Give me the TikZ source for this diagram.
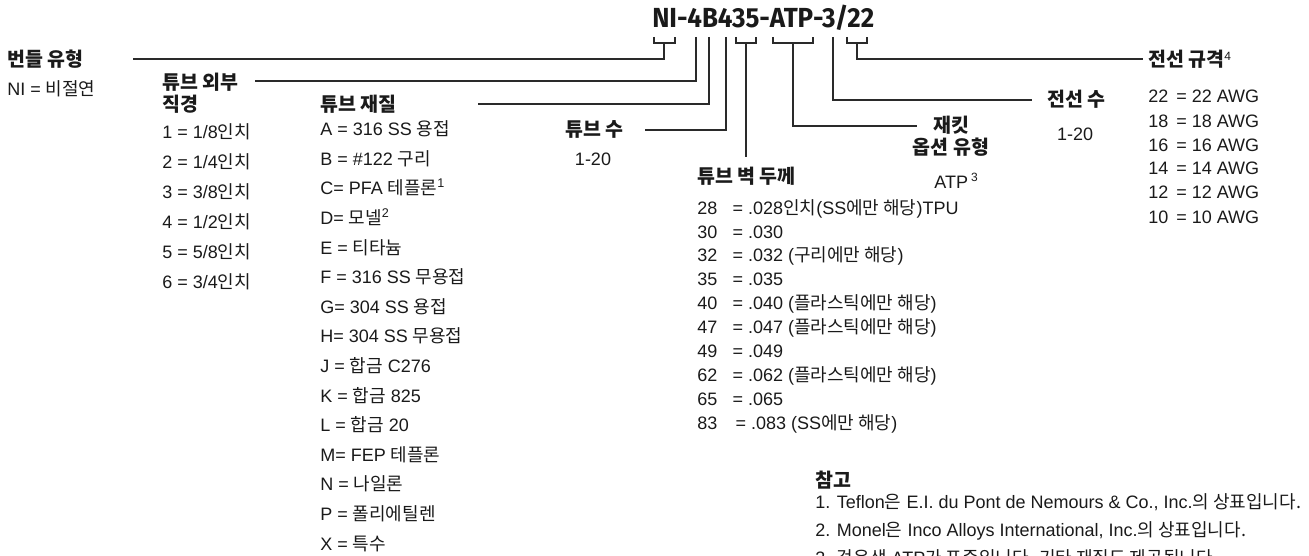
\documentclass[tikz,border=0pt]{standalone}
\usepackage{fontspec}
\setmainfont{Liberation Sans}
\newfontfamily\krfont{Noto Sans CJK KR}
\newfontfamily\krhead{Noto Sans CJK KR}
\newfontfamily\codefont{Fira Sans}
\usetikzlibrary{positioning,calc}
\definecolor{Ink}{HTML}{1A1A1A}
\definecolor{Wire}{HTML}{2A2A2A}
\newcommand\ko[1]{{\krfont #1}}
\newcommand\wallrow[2]{\makebox[26.5pt][l]{#1}= #2}
\newcommand\gaugerow[2]{\makebox[21pt][l]{#1}= #2}

\begin{document}
\begin{tikzpicture}[x=0.75pt,y=-0.75pt,
  code/.style={font=\codefont\bfseries\fontsize{20.7}{24}\selectfont,inner sep=0pt,anchor=base west,text=Ink},
  head/.style={font=\krhead\bfseries\fontsize{14.6}{16.5}\selectfont,inner sep=0pt,anchor=base west,align=left,text=Ink},
  item/.style={font=\fontsize{13.5}{22.3}\selectfont,inner sep=0pt,anchor=base west,align=left,text=Ink},
  lead/.style={draw=Wire,line width=1pt}
]
  \useasboundingbox (0,0) rectangle (1309,556);

  % part number
  \node[code] (code) at (652,28) {\scalebox{0.94}[1]{NI-4B435-ATP-3/22}};

  % headings (multi-line nodes sit on their last baseline)
  \node[head] (bundle) at (7,67) {번들 유형};
  \node[head] (outer) at (162,112) {튜브 외부\\직경};
  \node[head] (matl) at (320,112) {튜브 재질};
  \node[head] (count) at (565,137) {튜브 수};
  \node[head] (wall) at (697,184) {튜브 벽 두께};
  \node[head,align=center,anchor=base] (jacket) at (951,155) {재킷\\옵션 유형};
  \node[head] (wires) at (1047,107) {전선 수};
  \node[head] (gauge) at (1148,67) {전선 규격{\rmfamily\mdseries\fontsize{9}{9}\selectfont\raisebox{5pt}{4}}};
  \node[head] (notes) at (815,487) {참고};

  % value lists
  \node[item] (bundlev) at (7,96) {NI = \ko{비절연}};
  \node[item,font=\fontsize{13.5}{22.5}\selectfont] (outerv) at (162,288) {%
    1 = 1/8\ko{인치}\\2 = 1/4\ko{인치}\\3 = 3/8\ko{인치}\\%
    4 = 1/2\ko{인치}\\5 = 5/8\ko{인치}\\6 = 3/4\ko{인치}};
  \node[item,font=\fontsize{13.5}{22.2}\selectfont] (matlv) at (320,550) {%
    A = 316 SS \ko{용접}\\B = \#122 \ko{구리}\\C= PFA \ko{테플론}\textsuperscript{1}\\%
    D= \ko{모넬}\textsuperscript{2}\\E = \ko{티타늄}\\F = 316 SS \ko{무용접}\\%
    G= 304 SS \ko{용접}\\H= 304 SS \ko{무용접}\\J = \ko{합금} C276\\%
    K = \ko{합금} 825\\L = \ko{합금} 20\\M= FEP \ko{테플론}\\%
    N = \ko{나일론}\\P = \ko{폴리에틸렌}\\X = \ko{특수}};
  \node[item,anchor=base] (countv) at (593,166) {1-20};
  \node[item,font=\fontsize{13.5}{17.9}\selectfont] (wallv) at (697,429) {%
    \wallrow{28}{.028\ko{인치}(SS\ko{에만 해당})TPU}\\\wallrow{30}{.030}\\%
    \wallrow{32}{.032 (\ko{구리에만 해당})}\\\wallrow{35}{.035}\\%
    \wallrow{40}{.040 (\ko{플라스틱에만 해당})}\\\wallrow{47}{.047 (\ko{플라스틱에만 해당})}\\%
    \wallrow{49}{.049}\\\wallrow{62}{.062 (\ko{플라스틱에만 해당})}\\%
    \wallrow{65}{.065}\\\makebox[28.75pt][l]{83}= .083 (SS\ko{에만 해당})};
  \node[item,anchor=base] (jacketv) at (956,188) {ATP\,{\fontsize{9}{9}\selectfont\raisebox{5pt}{3}}};
  \node[item,anchor=base] (wiresv) at (1075,141) {1-20};
  \node[item,font=\fontsize{13.5}{18}\selectfont] (gaugev) at (1148,223) {%
    \gaugerow{22}{22 AWG}\\\gaugerow{18}{18 AWG}\\\gaugerow{16}{16 AWG}\\%
    \gaugerow{14}{14 AWG}\\\gaugerow{12}{12 AWG}\\\gaugerow{10}{10 AWG}};
  \node[item,font=\fontsize{13.5}{21}\selectfont] (notesv) at (815,564) {%
    1. Teflon\ko{은} E.I. du Pont de Nemours \& Co., Inc.\ko{의 상표입니다.}\\%
    2. Monel\ko{은} Inco Alloys International, Inc.\ko{의 상표입니다.}\\%
    3. \ko{검은색} ATP\ko{가 표준입니다. 기타 재질도 제공됩니다.}};

  % bracket stems and lead ends
  \coordinate (sNI) at (664,43);   \coordinate (kNI) at (133,59);
  \coordinate (s4a) at (696,37);   \coordinate (k4a) at (255,81);
  \coordinate (sB) at (709,37);    \coordinate (kB) at (478,104);
  \coordinate (s4b) at (726,37);   \coordinate (k4b) at (645,130);
  \coordinate (s35) at (746,43);   \coordinate (k35) at (746,157);
  \coordinate (sATP) at (793,43);  \coordinate (kATP) at (917,126);
  \coordinate (s3) at (833,37);    \coordinate (k3) at (1032,100);
  \coordinate (s22) at (857,43);   \coordinate (k22) at (1143,59);

  % brackets under the code
  \draw[lead] ($(sNI)+(-10,-6)$) |- ($(sNI)+(11,0)$) -- ++(0,-6);
  \draw[lead] ($(s35)+(-10,-6)$) |- ($(s35)+(10,0)$) -- ++(0,-6);
  \draw[lead] ($(sATP)+(-20,-6)$) |- ($(sATP)+(20,0)$) -- ++(0,-6);
  \draw[lead] ($(s22)+(-10,-6)$) |- ($(s22)+(10,0)$) -- ++(0,-6);

  % leads to the headings
  \draw[lead] (sNI) |- (kNI);
  \draw[lead] (s4a) |- (k4a);
  \draw[lead] (sB) |- (kB);
  \draw[lead] (s4b) |- (k4b);
  \draw[lead] (s35) -- (k35);
  \draw[lead] (sATP) |- (kATP);
  \draw[lead] (s3) |- (k3);
  \draw[lead] (s22) |- (k22);
\end{tikzpicture}
\end{document}
